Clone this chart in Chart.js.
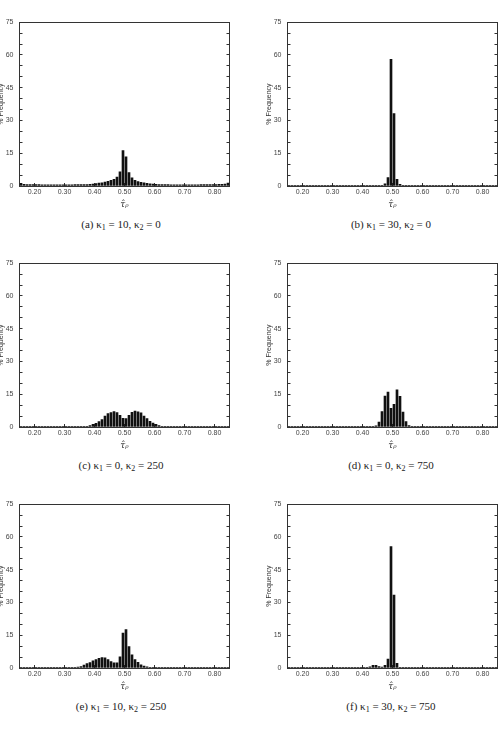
<!DOCTYPE html>
<html lang="en">
<head>
<meta charset="UTF-8">
<title>Histograms of tau_p</title>
<script src="https://cdn.jsdelivr.net/npm/chart.js"></script>
<style>
  html, body { margin: 0; padding: 0; background: #fff; }
  body { width: 498px; height: 732px; overflow: hidden; position: relative; }
  canvas.panel { position: absolute; }
  .cap {
    position: absolute;
    transform: translate(-50%, -50%);
    white-space: nowrap;
    font-family: 'Liberation Serif', serif;
    font-size: 11px;
    color: #222;
  }
  .cap sub { font-size: 8px; vertical-align: -2px; line-height: 0; }
</style>
</head>
<body>
<canvas id="pa" class="panel" width="253" height="201"></canvas>
<canvas id="pb" class="panel" width="253" height="201"></canvas>
<canvas id="pc" class="panel" width="253" height="201"></canvas>
<canvas id="pd" class="panel" width="253" height="201"></canvas>
<canvas id="pe" class="panel" width="253" height="201"></canvas>
<canvas id="pf" class="panel" width="253" height="201"></canvas>

<div class="cap" style="left:121px;top:224px">(a) κ<sub>1</sub> = 10, κ<sub>2</sub> = 0</div>
<div class="cap" style="left:391px;top:224px">(b) κ<sub>1</sub> = 30, κ<sub>2</sub> = 0</div>
<div class="cap" style="left:121px;top:465px">(c) κ<sub>1</sub> = 0, κ<sub>2</sub> = 250</div>
<div class="cap" style="left:391px;top:465px">(d) κ<sub>1</sub> = 0, κ<sub>2</sub> = 750</div>
<div class="cap" style="left:121px;top:706px">(e) κ<sub>1</sub> = 10, κ<sub>2</sub> = 250</div>
<div class="cap" style="left:391px;top:706px">(f) κ<sub>1</sub> = 30, κ<sub>2</sub> = 750</div>

<script>
// bin centres of the histograms (width 0.01)
const binCenters = [
  0.155, 0.165, 0.175, 0.185, 0.195, 0.205, 0.215, 0.225, 0.235, 0.245,
  0.255, 0.265, 0.275, 0.285, 0.295, 0.305, 0.315, 0.325, 0.335, 0.345,
  0.355, 0.365, 0.375, 0.385, 0.395, 0.405, 0.415, 0.425, 0.435, 0.445,
  0.455, 0.465, 0.475, 0.485, 0.495, 0.505, 0.515, 0.525, 0.535, 0.545,
  0.555, 0.565, 0.575, 0.585, 0.595, 0.605, 0.615, 0.625, 0.635, 0.645,
  0.655, 0.665, 0.675, 0.685, 0.695, 0.705, 0.715, 0.725, 0.735, 0.745,
  0.755, 0.765, 0.775, 0.785, 0.795, 0.805, 0.815, 0.825, 0.835, 0.845
];
const xTicks = [0.2, 0.3, 0.4, 0.5, 0.6, 0.7, 0.8];
const yLabels = [0, 15, 30, 45, 60, 75];

// % frequency, one value per bin
const freqA = [
  1.2, 0.8, 0.7, 0.7, 0.6, 0.6, 0.6, 0.5, 0.5, 0.5,
  0.5, 0.5, 0.5, 0.5, 0.5, 0.5, 0.5, 0.5, 0.6, 0.6,
  0.6, 0.7, 0.7, 0.8, 0.9, 1.1, 1.3, 1.5, 1.8, 2.1,
  2.6, 3.0, 4.1, 6.5, 16.2, 13.3, 6.1, 3.7, 2.6, 2.0,
  1.7, 1.5, 1.2, 1.0, 0.9, 0.8, 0.7, 0.7, 0.6, 0.6,
  0.5, 0.5, 0.5, 0.5, 0.5, 0.5, 0.5, 0.5, 0.5, 0.5,
  0.6, 0.6, 0.6, 0.6, 0.7, 0.7, 0.8, 0.8, 0.9, 1.3
];
const freqB = [
  0.25, 0.25, 0.25, 0.25, 0.25, 0.25, 0.25, 0.25, 0.25, 0.25,
  0.25, 0.25, 0.25, 0.25, 0.25, 0.25, 0.25, 0.25, 0.25, 0.25,
  0.25, 0.25, 0.25, 0.25, 0.25, 0.25, 0.25, 0.25, 0.25, 0.25,
  0.25, 0.3, 1.0, 3.8, 58.0, 33.2, 3.1, 0.8, 0.3, 0.25,
  0.25, 0.25, 0.25, 0.25, 0.25, 0.25, 0.25, 0.25, 0.25, 0.25,
  0.25, 0.25, 0.25, 0.25, 0.25, 0.25, 0.25, 0.25, 0.25, 0.25,
  0.25, 0.25, 0.25, 0.25, 0.25, 0.25, 0.25, 0.25, 0.25, 0.25
];
const freqC = [
  0.25, 0.25, 0.25, 0.25, 0.25, 0.25, 0.25, 0.25, 0.25, 0.25,
  0.25, 0.25, 0.25, 0.25, 0.25, 0.25, 0.25, 0.25, 0.25, 0.25,
  0.25, 0.25, 0.3, 0.7, 1.2, 1.7, 2.5, 3.4, 5.0, 6.2,
  6.6, 7.1, 6.6, 5.4, 4.0, 3.9, 5.3, 6.7, 7.3, 7.0,
  6.5, 5.0, 3.8, 2.6, 1.8, 1.2, 0.7, 0.3, 0.25, 0.25,
  0.25, 0.25, 0.25, 0.25, 0.25, 0.25, 0.25, 0.25, 0.25, 0.25,
  0.25, 0.25, 0.25, 0.25, 0.25, 0.25, 0.25, 0.25, 0.25, 0.25
];
const freqD = [
  0.25, 0.25, 0.25, 0.25, 0.25, 0.25, 0.25, 0.25, 0.25, 0.25,
  0.25, 0.25, 0.25, 0.25, 0.25, 0.25, 0.25, 0.25, 0.25, 0.25,
  0.25, 0.25, 0.25, 0.25, 0.25, 0.25, 0.25, 0.25, 0.25, 0.5,
  2.3, 7.1, 14.2, 16.0, 8.6, 10.4, 17.0, 14.0, 6.8, 2.5,
  0.6, 0.25, 0.25, 0.25, 0.25, 0.25, 0.25, 0.25, 0.25, 0.25,
  0.25, 0.25, 0.25, 0.25, 0.25, 0.25, 0.25, 0.25, 0.25, 0.25,
  0.25, 0.25, 0.25, 0.25, 0.25, 0.25, 0.25, 0.25, 0.25, 0.25
];
const freqE = [
  0.25, 0.25, 0.25, 0.25, 0.25, 0.25, 0.25, 0.25, 0.25, 0.25,
  0.25, 0.25, 0.25, 0.25, 0.25, 0.25, 0.25, 0.25, 0.3, 0.4,
  0.7, 1.3, 2.0, 2.5, 3.3, 3.9, 4.4, 4.8, 4.7, 3.8,
  2.9, 2.4, 2.4, 5.1, 16.0, 17.6, 9.8, 6.0, 3.8, 2.6,
  1.5, 0.9, 0.5, 0.3, 0.25, 0.25, 0.25, 0.25, 0.25, 0.25,
  0.25, 0.25, 0.25, 0.25, 0.25, 0.25, 0.25, 0.25, 0.25, 0.25,
  0.25, 0.25, 0.25, 0.25, 0.25, 0.25, 0.25, 0.25, 0.25, 0.25
];
const freqF = [
  0.25, 0.25, 0.25, 0.25, 0.25, 0.25, 0.25, 0.25, 0.25, 0.25,
  0.25, 0.25, 0.25, 0.25, 0.25, 0.25, 0.25, 0.25, 0.25, 0.25,
  0.25, 0.25, 0.25, 0.25, 0.25, 0.25, 0.25, 0.5, 1.2, 1.2,
  0.6, 0.4, 1.2, 4.1, 55.6, 33.4, 2.1, 0.3, 0.25, 0.25,
  0.25, 0.25, 0.25, 0.25, 0.25, 0.25, 0.25, 0.25, 0.25, 0.25,
  0.25, 0.25, 0.25, 0.25, 0.25, 0.25, 0.25, 0.25, 0.25, 0.25,
  0.25, 0.25, 0.25, 0.25, 0.25, 0.25, 0.25, 0.25, 0.25, 0.25
];

const frameColor = '#333';
const tickFont = { family: 'Liberation Sans', size: 7 };
const tickColor = '#444';

// one histogram panel; plotLeft/plotTop = page position of the frame
function histogram(id, values, plotLeft, plotTop) {
  const cv = document.getElementById(id);
  cv.style.left = (plotLeft - 40) + 'px';
  cv.style.top = (plotTop - 2) + 'px';
  return new Chart(cv, {
    type: 'bar',
    data: {
      datasets: [{
        data: binCenters.map((x, i) => ({ x: x, y: values[i] })),
        backgroundColor: '#111',
        borderWidth: 0,
        barThickness: 2
      }]
    },
    options: {
      responsive: false,
      animation: false,
      // half-pixel offsets keep the 2px bars on whole pixels (3px per bin)
      layout: { padding: { top: 2, right: 2.5, left: 0, bottom: 0 } },
      plugins: { legend: { display: false }, tooltip: { enabled: false } },
      scales: {
        x: {
          type: 'linear', position: 'bottom', min: 0.15, max: 0.85, offset: false,
          afterBuildTicks: s => { s.ticks = xTicks.map(v => ({ value: v })); },
          afterFit: s => { s.height = 24; },
          ticks: { callback: v => v.toFixed(2), font: tickFont, color: tickColor, padding: 5, maxRotation: 0, autoSkip: false },
          grid: { drawOnChartArea: false, offset: false, tickLength: -3, color: frameColor },
          border: { color: frameColor, width: 1 },
          title: { display: true, text: 'τ̂ᵨ', color: '#333',
                   font: { family: 'DejaVu Serif', style: 'italic', size: 9 }, padding: { top: 1, bottom: 0 } }
        },
        xTop: {
          type: 'linear', position: 'top', min: 0.15, max: 0.85, offset: false,
          afterFit: s => { s.height = 0; },
          ticks: { display: false },
          grid: { drawOnChartArea: false, drawTicks: false, offset: false },
          border: { color: frameColor, width: 1 }
        },
        y: {
          type: 'linear', position: 'left', min: 0, max: 75,
          afterFit: s => { s.width = 40.5; },
          ticks: { stepSize: 5, autoSkip: false, font: tickFont, color: tickColor, padding: 9,
                   callback: v => yLabels.includes(v) ? String(v) : '' },
          grid: { drawOnChartArea: false, tickLength: -3, color: frameColor },
          border: { color: frameColor, width: 1 },
          title: { display: true, text: '% Frequency', color: '#333',
                   font: { family: 'Liberation Sans', size: 7 }, padding: { top: 18, bottom: 0 } }
        },
        yRight: {
          type: 'linear', position: 'right', min: 0, max: 75,
          afterFit: s => { s.width = 0; },
          ticks: { display: false, stepSize: 5 },
          grid: { drawOnChartArea: false, tickLength: -3, color: frameColor },
          border: { color: frameColor, width: 1 }
        }
      }
    }
  });
}

histogram('pa', freqA, 19, 11);
histogram('pb', freqB, 287, 11);
histogram('pc', freqC, 19, 252);
histogram('pd', freqD, 287, 252);
histogram('pe', freqE, 19, 493);
histogram('pf', freqF, 287, 493);
</script>
</body>
</html>
